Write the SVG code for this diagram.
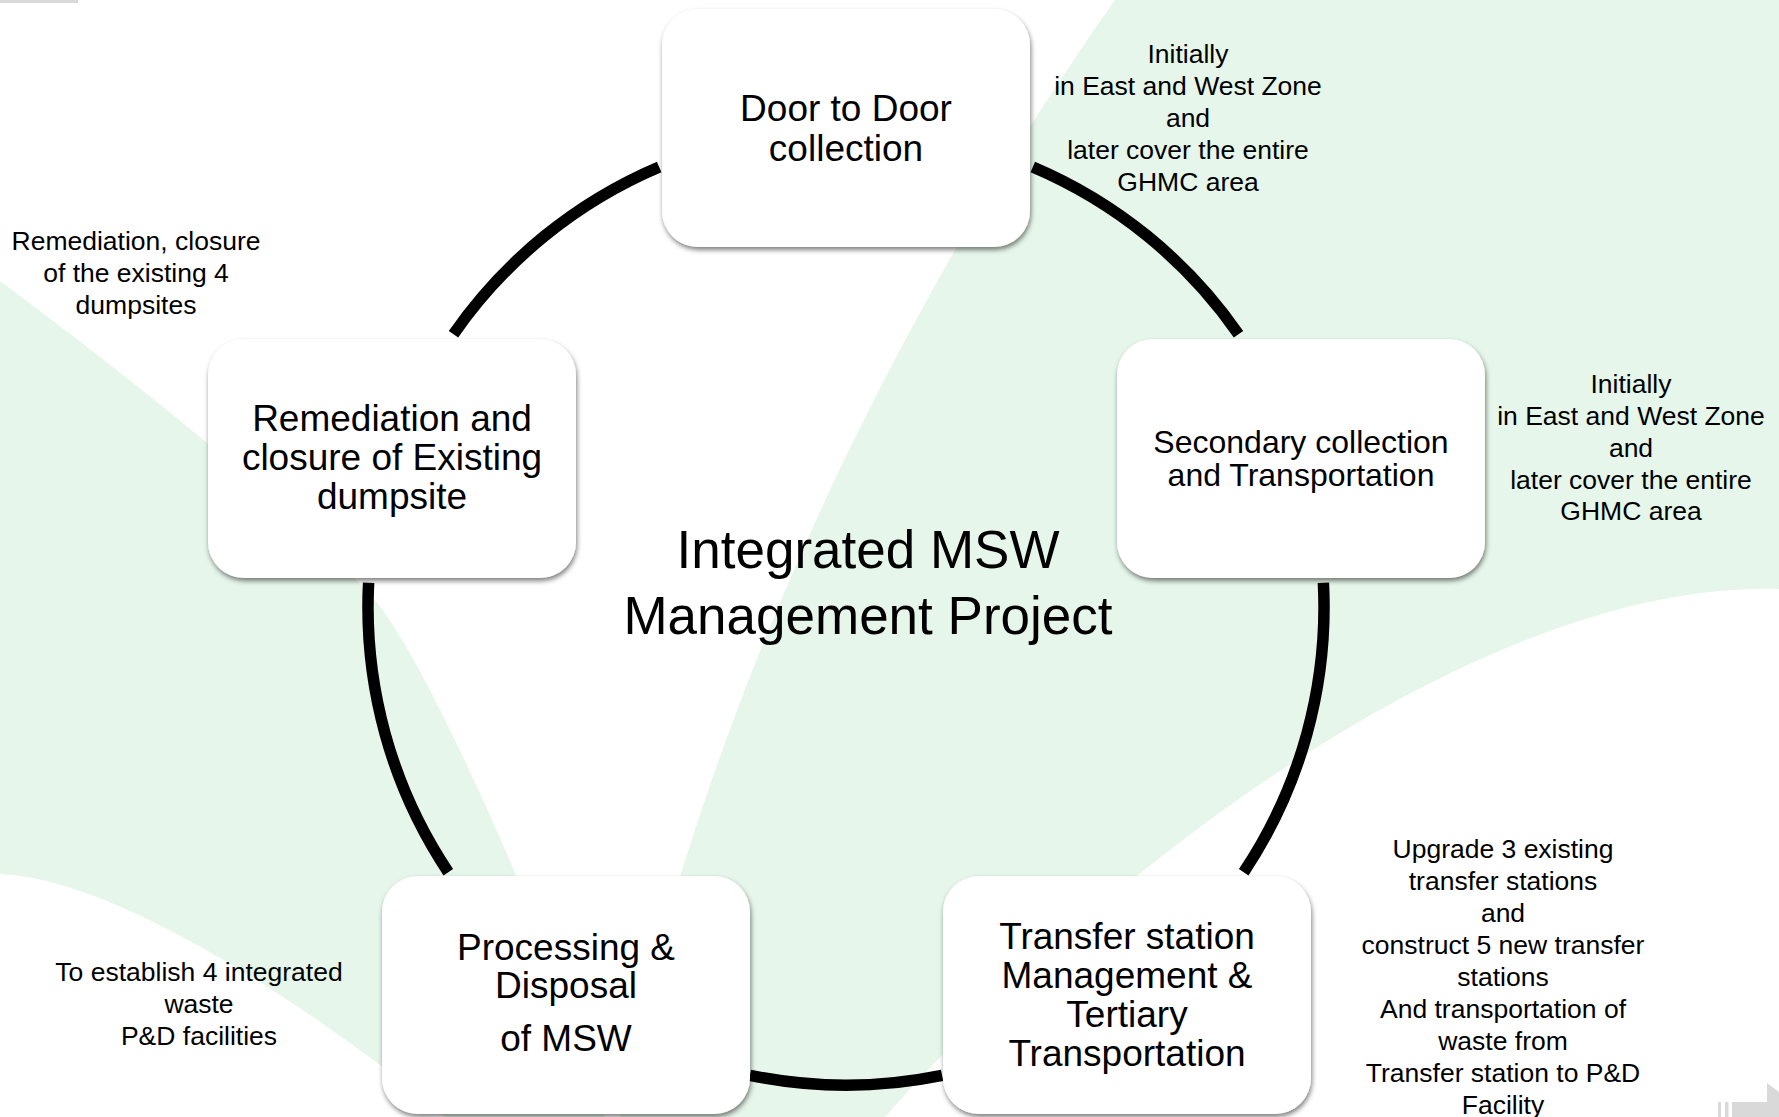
<svg xmlns="http://www.w3.org/2000/svg" width="1779" height="1117" viewBox="0 0 1779 1117">
  <defs>
    <filter id="shadow" x="-10%" y="-10%" width="120%" height="125%">
      <feDropShadow dx="1" dy="3" stdDeviation="2.5" flood-color="#000000" flood-opacity="0.5"/>
    </filter>
    <style>
      .bg { fill: #E6F6EA; }
      .deco { fill: #D9D9D9; }
      .box { fill: #FFFFFF; filter: url(#shadow); }
      .arc { fill: none; stroke: #000000; stroke-width: 11.5; stroke-linecap: butt; }
      .node { font-family: "Liberation Sans", Arial, sans-serif; font-size: 37px; fill: #000000; text-anchor: middle; }
      .node2 { font-family: "Liberation Sans", Arial, sans-serif; font-size: 32px; fill: #000000; text-anchor: middle; }
      .title { font-family: "Liberation Sans", Arial, sans-serif; font-size: 53px; fill: #000000; text-anchor: middle; }
      .note { font-family: "Liberation Sans", Arial, sans-serif; font-size: 26.5px; fill: #000000; text-anchor: middle; }
    </style>
  </defs>

  <!-- background -->
  <rect x="0" y="0" width="1779" height="1117" fill="#FFFFFF"/>
  <path class="bg" d="M0,281 C140,385 290,505 373,598 C433,665 575,1000 605,1117 L445,1117 C410,1085 150,880 0,874 Z"/>
  <path class="bg" d="M1115,0 L1779,0 L1779,589 C1500,580 1130,840 885,1117 L620,1117 C660,900 790,460 1115,0 Z"/>
  <rect class="deco" x="0" y="0" width="78" height="3"/>
  <g id="corner-mark">
    <rect class="deco" x="1718" y="1102" width="3" height="15"/>
    <rect class="deco" x="1725" y="1102" width="3.5" height="15"/>
    <polygon class="deco" points="1732,1102 1767,1102 1767,1083 1779,1092 1779,1117 1732,1117"/>
  </g>

  <!-- connectors -->
  <g id="connectors">
    <path class="arc" d="M1032.8,167 A478,478 0 0 1 1238.5,334.2"/>
    <path class="arc" d="M1323.4,582.8 A478,478 0 0 1 1243.7,872.2"/>
    <path class="arc" d="M942.1,1075.3 A478,478 0 0 1 749.9,1075.3"/>
    <path class="arc" d="M448.3,872.2 A478,478 0 0 1 368.6,582.8"/>
    <path class="arc" d="M453.5,334.2 A478,478 0 0 1 659.2,167"/>
  </g>

  <!-- centre title -->
  <g id="title">
    <text class="title" x="868" y="568">Integrated MSW</text>
    <text class="title" x="868" y="634">Management Project</text>
  </g>

  <!-- nodes -->
  <g id="node-door">
    <rect class="box" x="662" y="9" width="368" height="238" rx="36" ry="36"/>
    <text class="node" x="846" y="121">Door to Door</text>
    <text class="node" x="846" y="161">collection</text>
  </g>
  <g id="node-secondary">
    <rect class="box" x="1117" y="339" width="368" height="239" rx="36" ry="36"/>
    <text class="node2" x="1301" y="453">Secondary collection</text>
    <text class="node2" x="1301" y="486">and Transportation</text>
  </g>
  <g id="node-transfer">
    <rect class="box" x="943" y="876" width="368" height="238" rx="36" ry="36"/>
    <text class="node" x="1127" y="949">Transfer station</text>
    <text class="node" x="1127" y="988">Management &amp;</text>
    <text class="node" x="1127" y="1027">Tertiary</text>
    <text class="node" x="1127" y="1066">Transportation</text>
  </g>
  <g id="node-processing">
    <rect class="box" x="382" y="876" width="368" height="238" rx="36" ry="36"/>
    <text class="node" x="566" y="960">Processing &amp;</text>
    <text class="node" x="566" y="998">Disposal</text>
    <text class="node" x="566" y="1051">of MSW</text>
  </g>
  <g id="node-remediation">
    <rect class="box" x="208" y="339" width="368" height="239" rx="36" ry="36"/>
    <text class="node" x="392" y="431">Remediation and</text>
    <text class="node" x="392" y="470">closure of Existing</text>
    <text class="node" x="392" y="509">dumpsite</text>
  </g>

  <!-- annotations -->
  <g id="note-door">
    <text class="note" x="1188" y="63">Initially</text>
    <text class="note" x="1188" y="95">in East and West Zone</text>
    <text class="note" x="1188" y="127">and</text>
    <text class="note" x="1188" y="159">later cover the entire</text>
    <text class="note" x="1188" y="191">GHMC area</text>
  </g>
  <g id="note-secondary">
    <text class="note" x="1631" y="393">Initially</text>
    <text class="note" x="1631" y="425">in East and West Zone</text>
    <text class="note" x="1631" y="457">and</text>
    <text class="note" x="1631" y="489">later cover the entire</text>
    <text class="note" x="1631" y="520">GHMC area</text>
  </g>
  <g id="note-transfer">
    <text class="note" x="1503" y="858">Upgrade 3 existing</text>
    <text class="note" x="1503" y="890">transfer stations</text>
    <text class="note" x="1503" y="922">and</text>
    <text class="note" x="1503" y="954">construct 5 new transfer</text>
    <text class="note" x="1503" y="986">stations</text>
    <text class="note" x="1503" y="1018">And transportation of</text>
    <text class="note" x="1503" y="1050">waste from</text>
    <text class="note" x="1503" y="1082">Transfer station to P&amp;D</text>
    <text class="note" x="1503" y="1114">Facility</text>
  </g>
  <g id="note-remediation">
    <text class="note" x="136" y="250">Remediation, closure</text>
    <text class="note" x="136" y="282">of the existing 4</text>
    <text class="note" x="136" y="314">dumpsites</text>
  </g>
  <g id="note-processing">
    <text class="note" x="199" y="981">To establish 4 integrated</text>
    <text class="note" x="199" y="1013">waste</text>
    <text class="note" x="199" y="1045">P&amp;D facilities</text>
  </g>
</svg>
